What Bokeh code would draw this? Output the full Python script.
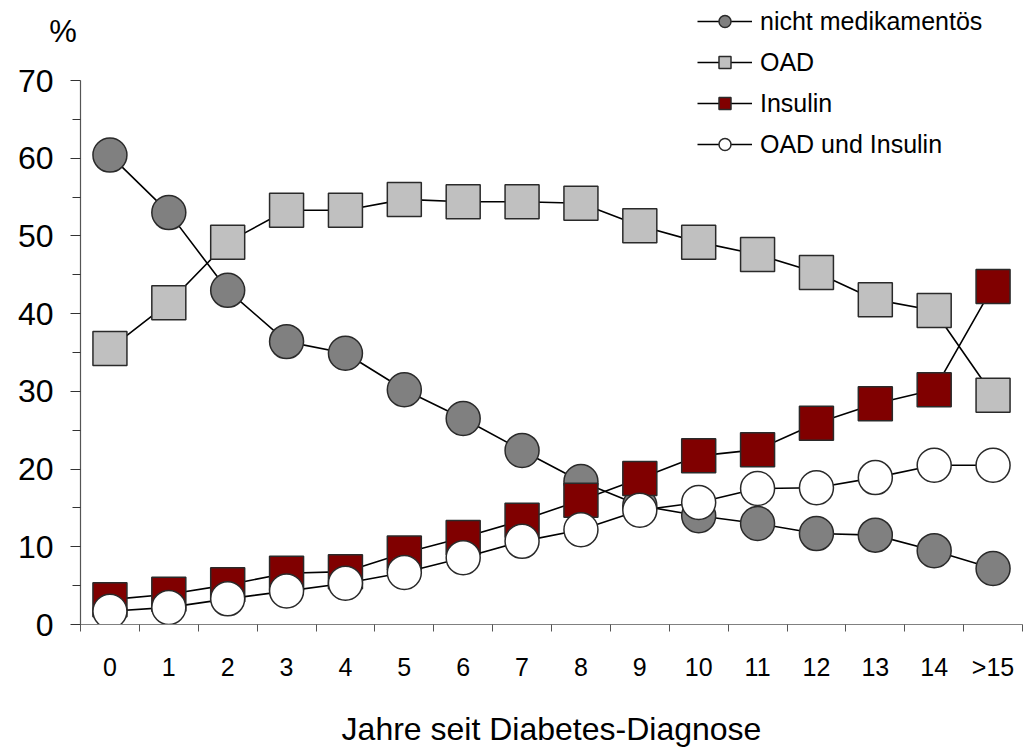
from bokeh.plotting import figure
from bokeh.models import FixedTicker, Legend, LegendItem, ColumnDataSource
from bokeh.embed import file_html
from bokeh.resources import INLINE

# ---- data ----
categories = ["0", "1", "2", "3", "4", "5", "6", "7", "8", "9",
              "10", "11", "12", "13", "14", ">15"]
x_pos = list(range(len(categories)))

nicht_medikamentoes = [60.4, 53.0, 43.0, 36.4, 34.9, 30.2, 26.5, 22.4,
                       18.4, 15.3, 14.0, 13.0, 11.7, 11.5, 9.5, 7.2]
oad = [35.5, 41.4, 49.2, 53.3, 53.3, 54.7, 54.4, 54.4,
       54.2, 51.3, 49.2, 47.6, 45.3, 41.8, 40.4, 29.5]
insulin = [3.2, 3.9, 5.1, 6.6, 6.8, 9.2, 11.2, 13.4,
           16.0, 18.8, 21.7, 22.5, 25.9, 28.4, 30.2, 43.5]
oad_und_insulin = [1.7, 2.2, 3.3, 4.3, 5.3, 6.7, 8.6, 10.7,
                   12.2, 14.7, 15.7, 17.5, 17.6, 18.9, 20.5, 20.5]

series_names = ["nicht medikamentös", "OAD", "Insulin", "OAD und Insulin"]
series_values = [nicht_medikamentoes, oad, insulin, oad_und_insulin]
series_markers = ["circle", "square", "square", "circle"]
series_colors = ["#808080", "#C0C0C0", "#800000", "#FFFFFF"]

y_major = [0, 10, 20, 30, 40, 50, 60, 70]
y_minor = [5, 15, 25, 35, 45, 55, 65]
y_axis_max = 70
y_unit = "%"

FONT = "Liberation Sans"

TOP = 6
FRAME_H = 624 - TOP
AXIS_H = 544  # pixel length of the 0..70 axis
y_top = y_axis_max * FRAME_H / AXIS_H

p = figure(width=1024, height=750, x_range=(-0.5, 15.5), y_range=(0, y_top),
           output_backend="svg", toolbar_location=None,
           min_border_left=80, min_border_right=2, min_border_top=TOP,
           min_border_bottom=126)
p.outline_line_color = None
p.xgrid.grid_line_color = None
p.ygrid.grid_line_color = None
p.background_fill_color = "white"
p.border_fill_color = "white"

legend_items = []
for name, vals, marker, color in zip(series_names, series_values,
                                     series_markers, series_colors):
    src = ColumnDataSource(dict(x=x_pos, y=vals))
    ln = p.line("x", "y", source=src, line_color="black", line_width=1.6)
    # small markers (used for the legend), hidden beneath the large ones
    small = p.scatter("x", "y", source=src, marker=marker, size=16,
                      fill_color=color, line_color="#2a2a2a", line_width=1.5)
    p.scatter("x", "y", source=src, marker=marker, size=34,
              fill_color=color, line_color="#2a2a2a", line_width=1.5)
    legend_items.append(LegendItem(label=name, renderers=[ln, small]))

# x axis
xa = p.xaxis[0]
xa.ticker = FixedTicker(ticks=x_pos, minor_ticks=[i - 0.5 for i in range(len(categories) + 1)])
xa.major_label_overrides = {i: c for i, c in enumerate(categories)}
xa.major_tick_out = 0
xa.major_tick_in = 0
xa.minor_tick_out = 7
xa.minor_tick_in = 0
xa.minor_tick_line_color = "#555555"
xa.axis_line_color = "#808080"
xa.axis_line_width = 1.2
xa.major_label_text_font = FONT
xa.major_label_text_font_size = "25px"
xa.major_label_text_color = "black"
xa.major_label_standoff = 21
xa.axis_label = "Jahre seit Diabetes-Diagnose"
xa.axis_label_text_font = FONT
xa.axis_label_text_font_size = "32px"
xa.axis_label_text_font_style = "normal"
xa.axis_label_text_color = "black"
xa.axis_label_standoff = 27

# y axis
ya = p.yaxis[0]
ya.bounds = (0, y_axis_max)
ya.ticker = FixedTicker(ticks=y_major, minor_ticks=y_minor)
ya.major_tick_out = 10
ya.major_tick_in = 0
ya.minor_tick_out = 8
ya.minor_tick_in = 0
ya.major_tick_line_color = "#333333"
ya.minor_tick_line_color = "#333333"
ya.axis_line_color = "#555555"
ya.axis_line_width = 1.2
ya.major_label_text_font = FONT
ya.major_label_text_font_size = "32px"
ya.major_label_text_color = "black"
ya.major_label_standoff = 17
# "%" unit, shown at the top of the y axis (second line of a two-line label)
ya.axis_label = "\n" + y_unit
ya.axis_label_orientation = "horizontal"
ya.axis_label_text_font = FONT
ya.axis_label_text_font_size = "31px"
ya.axis_label_text_font_style = "normal"
ya.axis_label_text_color = "black"
ya.axis_label_text_line_height = 1.4
ya.axis_label_standoff = -62
ya.axis_label_align = "end"

legend = Legend(items=legend_items, location=(617, 465),
                label_text_font=FONT, label_text_font_size="25px",
                label_text_color="black", glyph_width=55, glyph_height=30,
                label_height=30, spacing=11, padding=0, margin=0,
                label_standoff=8, border_line_color=None,
                background_fill_alpha=0)
p.add_layout(legend)

open("out.html", "w").write(file_html(p, INLINE))
